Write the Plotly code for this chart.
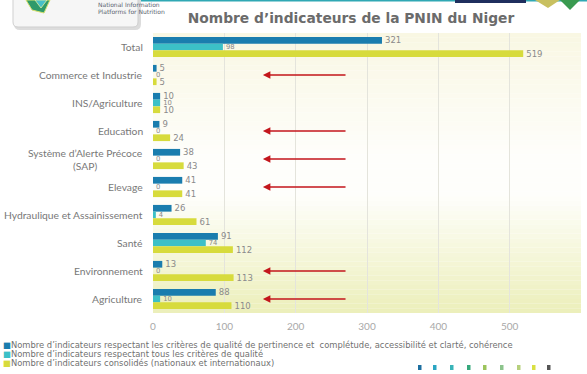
import plotly.graph_objects as go

# Indicator counts per sector (PNIN Niger)
categories = [
    "Total",
    "Commerce et Industrie",
    "INS/Agriculture",
    "Education",
    "Système d’Alerte Précoce<br>(SAP)",
    "Elevage",
    "Hydraulique et Assainissement",
    "Santé",
    "Environnement",
    "Agriculture",
]
pertinence_values = [321, 5, 10, 9, 38, 41, 26, 91, 13, 88]
tous_criteres_values = [98, 0, 10, 0, 0, 0, 4, 74, 0, 10]
consolides_values = [519, 5, 10, 24, 43, 41, 61, 112, 113, 110]

series_names = [
    "Nombre d’indicateurs respectant les critères de qualité de pertinence et  complétude, accessibilité et clarté, cohérence",
    "Nombre d’indicateurs respectant tous les critères de qualité",
    "Nombre d’indicateurs consolidés (nationaux et internationaux)",
]
series_colors = ["#1a7dae", "#3cc0c7", "#d7db3c"]

# Sectors flagged with a red arrow
flagged = ["Commerce et Industrie", "Education", "Système d’Alerte Précoce<br>(SAP)",
           "Elevage", "Environnement", "Agriculture"]
arrow_head_x, arrow_tail_x = 154, 272

x_ticks = [0, 100, 200, 300, 400, 500, 600]

FONT = "DejaVu Sans"
LABEL_FONT = "Lato"
W, H = 587, 374
L, R, T, B = 153, 6, 33, 61
PW, PH = W - L - R, H - T - B


def px_x(px):
    return (px - L) / PW


def px_y(py):
    return (H - B - py) / PH


fig = go.Figure()

label_sizes = [8.5, 6.8, 8.5]
for name, vals, color, fs in zip(series_names,
                                 [pertinence_values, tous_criteres_values, consolides_values],
                                 series_colors, label_sizes):
    fig.add_trace(go.Bar(
        y=categories, x=vals, orientation="h", name=name,
        marker=dict(color=color, line=dict(width=0)),
        text=vals, textposition="outside", constraintext="none",
        textfont=dict(family=FONT, size=fs, color="#8a8a8a"),
        cliponaxis=False, showlegend=False,
    ))

shapes = []

# Plot area gradient: cream at top, white in the middle, pale yellow at the bottom
def lerp(c1, c2, t):
    return tuple(round(a + (b - a) * t) for a, b in zip(c1, c2))

top_c, mid_c, bot_c = (249, 247, 227), (254, 254, 251), (236, 239, 186)
n = 60
for i in range(n):
    y0, y1 = i / n, (i + 1) / n
    yc = (y0 + y1) / 2
    if yc >= 0.55:
        c = lerp(mid_c, top_c, (yc - 0.55) / 0.45)
    elif yc >= 0.42:
        c = mid_c
    else:
        c = lerp(bot_c, mid_c, yc / 0.42)
    shapes.append(dict(type="rect", xref="paper", yref="paper", x0=0, x1=1, y0=y0, y1=y1,
                       fillcolor="rgb(%d,%d,%d)" % c, line=dict(width=0), layer="below"))

# Header strip
shapes.append(dict(type="rect", xref="paper", yref="paper", x0=px_x(120), x1=px_x(587),
                   y0=px_y(1.5), y1=px_y(0), fillcolor="#2fa8b4", line=dict(width=0)))
shapes.append(dict(type="rect", xref="paper", yref="paper", x0=px_x(455), x1=px_x(526),
                   y0=px_y(3), y1=px_y(0), fillcolor="#1f2f5e", line=dict(width=0)))
shapes.append(dict(type="path", xref="paper", yref="paper",
                   path="M %f %f L %f %f L %f %f Z" % (px_x(535), px_y(0), px_x(560), px_y(0), px_x(548), px_y(8)),
                   fillcolor="#c8c060", line=dict(width=0)))
shapes.append(dict(type="path", xref="paper", yref="paper",
                   path="M %f %f L %f %f L %f %f Z" % (px_x(560), px_y(0), px_x(580), px_y(0), px_x(570), px_y(10)),
                   fillcolor="#3a9a50", line=dict(width=0)))

# Logo card (soft shadow, then the card)
def card_path(x0, x1, y0, y1, r):
    return ("M {a} {b} L {c} {b} L {c} {d} Q {c} {e} {f} {e} L {g} {e} Q {a} {e} {a} {d} Z").format(
        a=px_x(x0), b=px_y(y0), c=px_x(x1), d=px_y(y1 - r), e=px_y(y1), f=px_x(x1 - r), g=px_x(x0 + r))

shapes.append(dict(type="path", xref="paper", yref="paper", path=card_path(14, 141, -4, 30, 6),
                   fillcolor="#dcdcdc", line=dict(width=0)))
shapes.append(dict(type="path", xref="paper", yref="paper", path=card_path(13, 138, -4, 27, 5),
                   fillcolor="#f6f6f6", line=dict(color="#cfcfcf", width=1)))
gem = "M %f %f L %f %f L %f %f L %f %f Z" % (px_x(26), px_y(0), px_x(50), px_y(0), px_x(44), px_y(13), px_x(32), px_y(10))
shapes.append(dict(type="path", xref="paper", yref="paper", path=gem,
                   fillcolor="#2f9a6a", line=dict(color="#d8e070", width=1)))
shapes.append(dict(type="path", xref="paper", yref="paper",
                   path="M %f %f L %f %f L %f %f Z" % (px_x(35), px_y(0), px_x(47), px_y(0), px_x(41), px_y(8)),
                   fillcolor="#46c0c8", line=dict(color="#e8f0a0", width=0.8)))

# Colour swatch row at the bottom right
swatch_x = [418, 433, 450, 467, 483, 500, 517, 532, 547]
swatch_c = ["#1d6fa0", "#2aa5c2", "#39b4b8", "#36a87c", "#9cc45c", "#8cc48c",
            "#b6d07c", "#d9e042", "#555555"]
for sx, sc in zip(swatch_x, swatch_c):
    shapes.append(dict(type="rect", xref="paper", yref="paper", x0=px_x(sx), x1=px_x(sx + 3.5),
                       y0=px_y(370), y1=px_y(365), fillcolor=sc, line=dict(width=0)))

annotations = []

# Category labels, centred lines, right-aligned to the plot
for cat in categories:
    annotations.append(dict(x=0, xref="paper", y=cat, yref="y", text=cat, showarrow=False,
                            xanchor="right", xshift=-8, align="center",
                            font=dict(family=LABEL_FONT, size=10.3, color="#787878")))

# Red arrows pointing at flagged sectors
for cat in flagged:
    annotations.append(dict(x=arrow_head_x, y=cat, xref="x", yref="y",
                            ax=arrow_tail_x, ay=cat, axref="x", ayref="y", text="",
                            showarrow=True, arrowhead=2, arrowsize=1, arrowwidth=1.5,
                            arrowcolor="#c3161c"))

# Legend lines
for i, (name, color) in enumerate(zip(series_names, series_colors)):
    annotations.append(dict(x=px_x(1), y=px_y(345 + 9 * i), xref="paper", yref="paper",
                            xanchor="left", yanchor="middle", showarrow=False,
                            text='<span style="color:%s">■</span>%s' % (color, name),
                            font=dict(family=FONT, size=8.4, color="#707070")))

# Logo text
annotations.append(dict(x=px_x(96), y=px_y(5), xref="paper", yref="paper", showarrow=False,
                        yanchor="middle",
                        text="National Information", font=dict(family=FONT, size=6, color="#5a6470")))
annotations.append(dict(x=px_x(96), y=px_y(11.5), xref="paper", yref="paper", showarrow=False,
                        yanchor="middle",
                        text="Platforms for Nutrition", font=dict(family=FONT, size=6, color="#5a6470")))

fig.update_layout(
    width=W, height=H,
    margin=dict(l=L, r=R, t=T, b=B),
    paper_bgcolor="white", plot_bgcolor="rgba(0,0,0,0)",
    barmode="group", bargap=0.28, bargroupgap=0,
    title=dict(text="<b>Nombre d’indicateurs de la PNIN du Niger</b>",
               x=351 / W, xanchor="center", xref="container",
               y=1 - 18 / H, yanchor="middle", yref="container",
               font=dict(family=FONT, size=13.8, color="#6b6b6b")),
    xaxis=dict(range=[0, 600], tickvals=x_ticks, showgrid=True, gridcolor="#e4e4dc",
               gridwidth=1, zeroline=False, showline=False, ticks="", ticklabelstandoff=6,
               tickfont=dict(family=LABEL_FONT, size=10, color="#a8a8a8")),
    yaxis=dict(categoryorder="array", categoryarray=categories, autorange="reversed",
               showticklabels=False, showgrid=False, zeroline=False, showline=False),
    shapes=shapes, annotations=annotations,
)

fig.write_html("out.html")
